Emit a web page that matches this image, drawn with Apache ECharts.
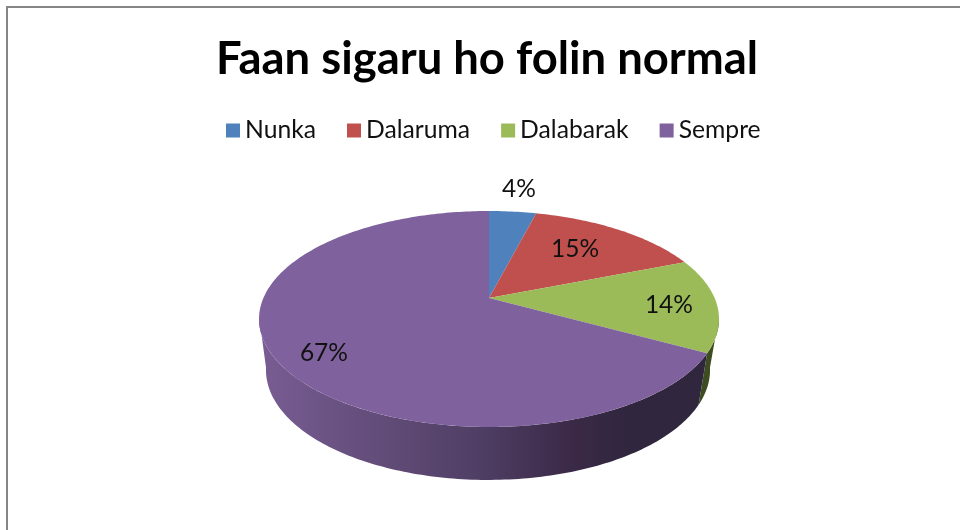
<!DOCTYPE html>
<html>
<head>
<meta charset="utf-8">
<style>html,body{margin:0;padding:0;background:#fff}#c{width:960px;height:530px}</style>
<script src="https://cdn.jsdelivr.net/npm/echarts@6/dist/echarts.min.js"></script>
</head>
<body>
<div id="c"></div>
<script>
var titleText = 'Faan sigaru ho folin normal';
var sliceNames = ['Nunka', 'Dalaruma', 'Dalabarak', 'Sempre'];
var sliceValues = [4, 15, 14, 67];
var sliceColors = ['#4f81bd', '#c0504d', '#9bbb59', '#7f619e'];
var wallColors = ['#2f4a6e', '#6e2e2c', '#3e4d20', null];

// Placement of the percent labels: radius fraction, and angle nudge from the slice middle
var labelRadius = [1.33, 0.667, 0.79, 0.819];
var labelNudge = [0, -2.4, 1.2, -5.3];

var total = sliceValues.reduce(function (a, b) { return a + b; }, 0);
var K = 0.1944;

function project(deg, r, level) {
  var t = deg * Math.PI / 180;
  var u = r * Math.sin(t), v = -r * Math.cos(t), w = 1 - K * v;
  if (level) return [488 + 217.8 * u / w, 348.6 + 105.8 * v / w];
  return [489 + 225.6 * u / w, 298 + 103.9 * v / w];
}
function arc(a0, a1, level) {
  var pts = [], n = Math.max(2, Math.ceil(Math.abs(a1 - a0)));
  for (var i = 0; i <= n; i++) pts.push(project(a0 + (a1 - a0) * i / n, 1, level));
  return pts;
}
var wallGradient = {
  type: 'linear', global: true, x: 262, y: 0, x2: 710, y2: 0,
  colorStops: [
    { offset: 0, color: '#785c93' },
    { offset: 0.3, color: '#5f4a75' },
    { offset: 0.5, color: '#4e3d63' },
    { offset: 0.68, color: '#3c2a48' },
    { offset: 0.82, color: '#30263e' },
    { offset: 1, color: '#30263e' }
  ]
};

function makeRender(idx) {
  return function () {
    var before = 0;
    for (var i = 0; i < idx; i++) before += sliceValues[i];
    var a0 = before / total * 360;
    var a1 = (before + sliceValues[idx]) / total * 360;
    var children = [];
    var w0 = Math.max(a0, 100), w1 = Math.min(a1, 260);
    if (w1 > w0) {
      children.push({
        type: 'polygon', z2: 1, silent: true,
        shape: { points: arc(w0, w1, 0).concat(arc(w1, w0, 1)) },
        style: { fill: wallColors[idx] || wallGradient }
      });
    }
    children.push({
      type: 'polygon', z2: 2,
      shape: { points: [project(0, 0, 0)].concat(arc(a0, a1, 0)) },
      style: { fill: sliceColors[idx] }
    });
    var mid = (a0 + a1) / 2 + labelNudge[idx];
    var p = project(mid, labelRadius[idx], 0);
    children.push({
      type: 'text', z2: 10,
      style: {
        text: Math.round(sliceValues[idx] / total * 100) + '%',
        x: p[0], y: p[1], align: 'center', verticalAlign: 'middle',
        fill: '#111', font: '24.5px Lato'
      }
    });
    return { type: 'group', children: children };
  };
}

var chart = echarts.init(document.getElementById('c'), null, { renderer: 'canvas' });
chart.setOption({
  animation: false,
  backgroundColor: '#fff',
  color: sliceColors,
  title: {
    text: titleText, left: 482, top: 32, textAlign: 'center',
    textStyle: { fontFamily: 'Lato', fontWeight: 'bold', fontSize: 45.4, color: '#000' }
  },
  legend: {
    top: 113, left: 218, icon: 'rect', itemWidth: 14, itemHeight: 14, itemGap: 31, padding: [5, 0, 5, 8],
    textStyle: { fontFamily: 'Lato', fontSize: 24.7, color: '#111' },
    data: sliceNames
  },
  graphic: [{
    type: 'rect', z: -10, silent: true,
    shape: { x: 7, y: 7, width: 1000, height: 600 },
    style: { fill: 'none', stroke: '#868686', lineWidth: 2 }
  }],
  series: sliceNames.map(function (name, i) {
    return {
      type: 'custom', name: name, coordinateSystem: 'none',
      itemStyle: { color: sliceColors[i] },
      data: [sliceValues[i]],
      renderItem: makeRender(i)
    };
  })
});
</script>
</body>
</html>
